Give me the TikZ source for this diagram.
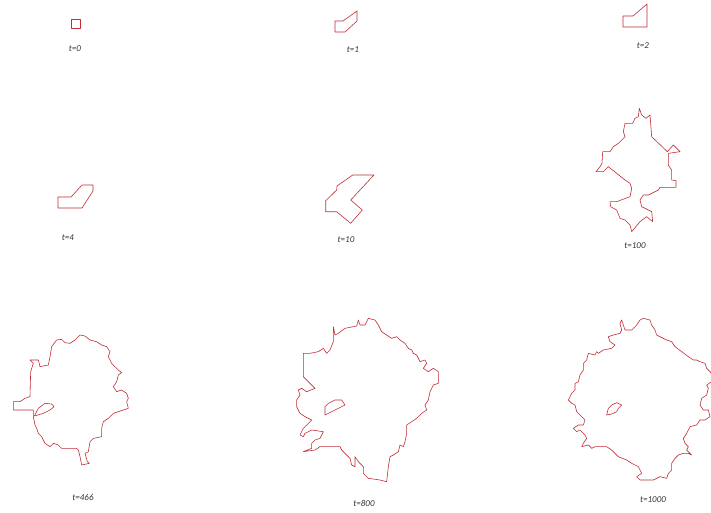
\documentclass[tikz,border=0pt]{standalone}
\usepackage{fontspec}
\setmainfont{Carlito}
\begin{document}
\begin{tikzpicture}[x=1pt,y=-1pt]
\tikzset{
  blob/.style={draw=blobred, line width=0.6pt, line join=round},
  lbl/.style={font=\fontsize{9}{10}\selectfont\itshape, text=black!80, inner sep=1pt},
  zoomed/.style={x=0.33333pt, y=-0.33333pt}
}
\definecolor{blobred}{RGB}{195,45,55}
\useasboundingbox (0,0) rectangle (711,512);
\fill[white] (0,0) rectangle (711,512);

% t=0
\draw[blob] (71,19) rectangle (80,28);
\node[lbl] (l0) at (75,49) {t=0};
% t=1
\draw[blob] (335,21) -- (343,21) -- (357,11) -- (357,21) -- (345,32) -- (335,32) -- cycle;
\node[lbl] (l1) at (353,50) {t=1};
% t=2
\draw[blob] (623,16) -- (633,16) -- (647,4) -- (647,27) -- (623,27) -- cycle;
\node[lbl] (l2) at (643,46) {t=2};
% t=4
\draw[blob] (58,208) -- (58,197) -- (71,197) -- (82,185) -- (93,185) -- (93,191) -- (82,208) -- cycle;
\node[lbl] (l4) at (68,238) {t=4};
% t=10
\draw[blob] (352.7,175) -- (374,175) -- (350.7,200) -- (362.3,210) -- (350.7,223.3) -- (336.7,211.7) -- (325.7,211.7) -- (325.7,200.7) -- (336.7,190) -- (337,186) -- cycle;
\node[lbl] (l10) at (346,240) {t=10};

% t=100
\begin{scope}[xshift=580pt, yshift=-100pt, zoomed]
\draw[blob] (178,25) -- (185,45) -- (198,55) -- (210,45) -- (215,110) -- (262,155) -- (280,135) -- (300,155) -- (265,160) -- (265,195) -- (275,210) -- (275,240) -- (288,242) -- (288,262) -- (240,262) -- (235,270) -- (205,285) -- (190,285) -- (180,300) -- (185,320) -- (205,330) -- (215,335) -- (218,365) -- (200,350) -- (180,365) -- (155,395) -- (150,375) -- (135,360) -- (120,355) -- (110,330) -- (92,320) -- (90,305) -- (110,305) -- (150,290) -- (155,265) -- (150,250) -- (135,240) -- (85,200) -- (70,215) -- (48,215) -- (60,200) -- (66,190) -- (68,155) -- (90,155) -- (100,140) -- (115,130) -- (135,110) -- (130,95) -- (135,70) -- (158,70) -- (165,55) -- (175,50) -- cycle;
\end{scope}
\node[lbl] (l100) at (635,246) {t=100};

% t=466
\begin{scope}[xshift=0pt, yshift=-310pt, zoomed]
\draw[blob] (155,110) -- (170,90) -- (185,88) -- (195,98) -- (210,100) -- (225,90) -- (240,75) -- (255,78) -- (270,90) -- (290,95) -- (305,105) -- (320,110) -- (330,125) -- (325,140) -- (335,160) -- (345,170) -- (355,180) -- (365,188) -- (355,195) -- (350,215) -- (340,230) -- (350,245) -- (365,240) -- (380,250) -- (385,265) -- (380,275) -- (385,295) -- (370,300) -- (355,305) -- (340,310) -- (325,325) -- (310,335) -- (305,355) -- (305,380) -- (280,385) -- (270,395) -- (265,425) -- (255,430) -- (262,455) -- (268,460) -- (245,465) -- (240,440) -- (235,420) -- (230,415) -- (185,415) -- (175,405) -- (160,400) -- (150,410) -- (135,400) -- (125,380) -- (115,370) -- (110,355) -- (105,345) -- (100,320) -- (100,300) -- (60,300) -- (40,300) -- (40,275) -- (60,275) -- (75,265) -- (90,260) -- (92,185) -- (100,160) -- (90,150) -- (115,150) -- (120,170) -- (145,165) -- (150,140) -- cycle;
\draw[blob] (103,318) -- (115,295) -- (135,280) -- (155,282) -- (162,290) -- (150,300) -- (130,310) -- (103,318);
\end{scope}
\node[lbl] (l466) at (83,497) {t=466};

% t=800
\begin{scope}[xshift=280pt, yshift=-310pt, zoomed]
\draw[blob] (160,50) -- (165,75) -- (175,70) -- (195,55) -- (230,48) -- (235,30) -- (240,45) -- (255,45) -- (265,25) -- (285,30) -- (295,45) -- (305,65) -- (320,75) -- (335,85) -- (350,80) -- (360,90) -- (375,100) -- (385,115) -- (395,120) -- (400,130) -- (410,135) -- (420,155) -- (435,150) -- (440,160) -- (430,175) -- (445,185) -- (460,175) -- (475,185) -- (475,220) -- (460,225) -- (450,245) -- (445,270) -- (435,285) -- (440,300) -- (425,310) -- (410,325) -- (395,335) -- (380,345) -- (380,370) -- (375,395) -- (370,410) -- (360,405) -- (355,425) -- (340,435) -- (330,440) -- (325,470) -- (320,515) -- (300,510) -- (265,505) -- (250,490) -- (250,470) -- (235,455) -- (225,440) -- (225,470) -- (215,465) -- (210,445) -- (200,435) -- (185,420) -- (180,410) -- (120,410) -- (105,420) -- (70,425) -- (95,415) -- (95,400) -- (105,390) -- (120,385) -- (130,365) -- (95,360) -- (75,370) -- (70,380) -- (60,375) -- (70,355) -- (85,340) -- (95,330) -- (75,320) -- (60,310) -- (50,290) -- (50,270) -- (60,255) -- (55,240) -- (65,235) -- (80,245) -- (105,235) -- (90,220) -- (70,200) -- (70,130) -- (90,130) -- (115,125) -- (130,115) -- (140,130) -- (150,120) -- (160,95) -- cycle;
\draw[blob] (135,315) -- (135,290) -- (145,280) -- (165,270) -- (185,270) -- (195,285) -- (175,295) -- (155,305) -- cycle;
\end{scope}
\node[lbl] (l800) at (364,503) {t=800};

% t=1000
\begin{scope}[xshift=560pt, yshift=-310pt, zoomed]
\draw[blob] (180,40) -- (185,60) -- (180,70) -- (160,75) -- (145,80) -- (150,95) -- (165,105) -- (155,115) -- (130,120) -- (115,130) -- (110,125) -- (105,135) -- (85,130) -- (80,150) -- (70,160) -- (70,180) -- (60,195) -- (55,215) -- (45,220) -- (45,240) -- (35,250) -- (25,270) -- (35,280) -- (45,285) -- (50,305) -- (65,320) -- (75,330) -- (70,345) -- (55,345) -- (40,355) -- (50,365) -- (60,360) -- (75,375) -- (80,385) -- (70,400) -- (65,410) -- (85,405) -- (95,415) -- (105,410) -- (140,410) -- (155,420) -- (165,430) -- (175,440) -- (200,450) -- (215,460) -- (235,470) -- (245,490) -- (230,500) -- (240,510) -- (280,510) -- (300,500) -- (320,505) -- (325,490) -- (335,480) -- (335,460) -- (345,445) -- (355,435) -- (370,430) -- (385,430) -- (395,435) -- (380,420) -- (385,410) -- (375,400) -- (370,385) -- (380,370) -- (385,360) -- (390,350) -- (410,345) -- (420,330) -- (435,330) -- (450,320) -- (445,300) -- (430,300) -- (420,285) -- (425,265) -- (440,255) -- (445,235) -- (440,225) -- (455,215) -- (460,200) -- (450,185) -- (440,175) -- (435,160) -- (420,155) -- (410,150) -- (400,150) -- (385,140) -- (365,125) -- (345,110) -- (335,95) -- (320,90) -- (310,85) -- (290,75) -- (285,60) -- (275,45) -- (270,30) -- (250,25) -- (240,30) -- (230,45) -- (215,60) -- (195,60) -- (190,45) -- (185,30) -- cycle;
\draw[blob] (140,315) -- (145,295) -- (155,285) -- (170,278) -- (185,285) -- (175,295) -- (170,305) -- (155,312) -- cycle;
\end{scope}
\node[lbl] (l1000) at (653,500) {t=1000};
\end{tikzpicture}
\end{document}
